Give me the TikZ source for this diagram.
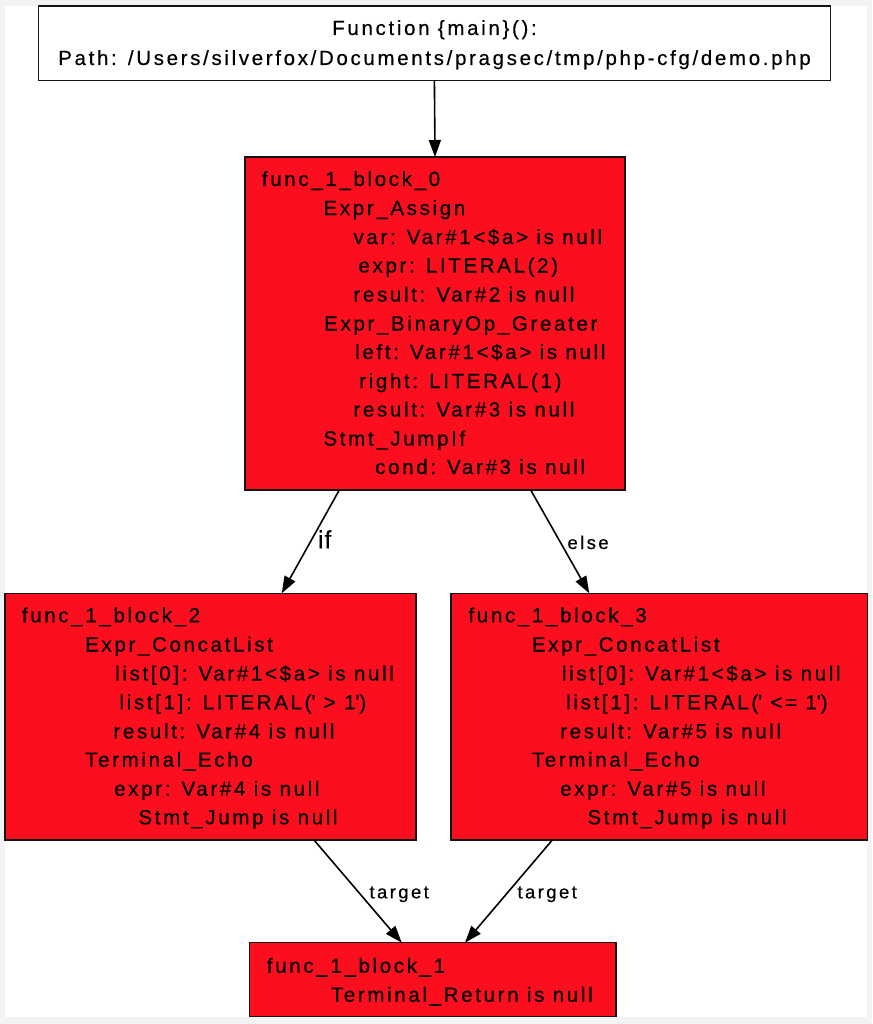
\documentclass[tikz,border=0pt]{standalone}
\usepackage{fontspec}
\setmainfont{Liberation Sans}[LetterSpace=13,FakeBold=0.4]
\newfontfamily\tightfont{Liberation Sans}[LetterSpace=4,FakeBold=0.4]
\usetikzlibrary{arrows.meta}
\definecolor{blockred}{RGB}{251,14,30}
\definecolor{pagegray}{RGB}{244,243,241}
\definecolor{inkline}{RGB}{20,20,20}
\newcommand{\sq}{\textquotesingle}
\begin{document}
\begin{tikzpicture}[x=1pt,y=-1pt,
  box/.style={draw=inkline, line width=1.5pt, inner sep=0pt, outer sep=0pt, anchor=north west},
  blk/.style={box, fill=blockred},
  txt/.style={inner sep=0pt, anchor=base west, font=\fontsize{20.5}{23}\selectfont},
  hdrtxt/.style={inner sep=0pt, anchor=base, font=\fontsize{20.5}{23}\selectfont},
  lbl/.style={inner sep=0pt, anchor=base west, font=\fontsize{18.5}{20}\selectfont},
  biglbl/.style={inner sep=0pt, anchor=base west, font=\tightfont\fontsize{25}{27}\selectfont},
  edge/.style={draw=black, line width=1.6pt, -{Triangle[length=17pt,width=12pt]}}]

\useasboundingbox (0,0) rectangle (872,1024);
\fill[pagegray] (0,0) rectangle (872,1024);
\fill[white] (5,6) rectangle (867,1017);

% boxes
\node[box, fill=white, minimum width=792.2pt, minimum height=74.7pt] (hdr) at (38.3,6) {};
\node[blk, minimum width=380pt, minimum height=333pt] (b0) at (245,157) {};
\node[blk, minimum width=411pt, minimum height=246.7pt] (b2) at (5,593.3) {};
\node[blk, minimum width=416.7pt, minimum height=246.7pt] (b3) at (451,593.3) {};
\node[blk, minimum width=366.7pt, minimum height=74pt] (b1) at (249.3,942.7) {};

% header text
\node[hdrtxt] (hdr1) at (434.5,35) {Function \{main\}():};
\node[hdrtxt] (hdr2) at (434.5,65) {Path: /Users/silverfox/Documents/pragsec/tmp/php-cfg/demo.php};

% block 0
\foreach \x/\y/\t [count=\i] in {
  261.7/186/{func\_1\_block\_0},
  323.3/215/{Expr\_Assign},
  353.3/244/{var: Var\#1<\$a> is null},
  358.3/272.5/{expr: LITERAL(2)},
  353.3/301.5/{result: Var\#2 is null},
  324/330.5/{Expr\_BinaryOp\_Greater},
  355/359/{left: Var\#1<\$a> is null},
  359/388/{right: LITERAL(1)},
  353.3/416.5/{result: Var\#3 is null},
  323.3/445.5/{Stmt\_JumpIf},
  375/474/{cond: Var\#3 is null}}
  \node[txt] (b0-\i) at (\x,\y) {\t};

% block 2
\foreach \x/\y/\t [count=\i] in {
  21.7/622.3/{func\_1\_block\_2},
  85/651.5/{Expr\_ConcatList},
  115/680.5/{list[0]: Var\#1<\$a> is null},
  119.3/709.3/{list[1]: LITERAL(\sq{} > 1\sq)},
  113.3/738.3/{result: Var\#4 is null},
  85/766.7/{Terminal\_Echo},
  114/795.7/{expr: Var\#4 is null},
  138.3/824.3/{Stmt\_Jump is null}}
  \node[txt] (b2-\i) at (\x,\y) {\t};

% block 3
\foreach \x/\y/\t [count=\i] in {
  468.3/622.3/{func\_1\_block\_3},
  531.7/651.5/{Expr\_ConcatList},
  561.7/680.5/{list[0]: Var\#1<\$a> is null},
  566/709.3/{list[1]: LITERAL(\sq{} <= 1\sq)},
  560/738.3/{result: Var\#5 is null},
  531.7/766.7/{Terminal\_Echo},
  560/795.7/{expr: Var\#5 is null},
  587.3/824.3/{Stmt\_Jump is null}}
  \node[txt] (b3-\i) at (\x,\y) {\t};

% block 1
\node[txt] (b1-1) at (266.7,972.7) {func\_1\_block\_1};
\node[txt] (b1-2) at (330.7,1001.7) {Terminal\_Return is null};

% connectors
\draw[edge] (hdr.south) -- (b0.north);
\draw[edge] ([xshift=94.3pt]b0.south west) -- ([xshift=276.7pt]b2.north west);
\draw[edge] ([xshift=285.7pt]b0.south west) -- ([xshift=138.3pt]b3.north west);
\draw[edge] ([xshift=309pt]b2.south west) -- ([xshift=152.4pt]b1.north west);
\draw[edge] ([xshift=101.3pt]b3.south west) -- ([xshift=215.7pt]b1.north west);

% connector labels
\node[biglbl] (lif) at (317.7,548.3) {if};
\node[lbl] (lelse) at (567.3,549) {else};
\node[lbl] (ltgt1) at (369.3,898.3) {target};
\node[lbl] (ltgt2) at (517.3,898.3) {target};
\end{tikzpicture}
\end{document}
